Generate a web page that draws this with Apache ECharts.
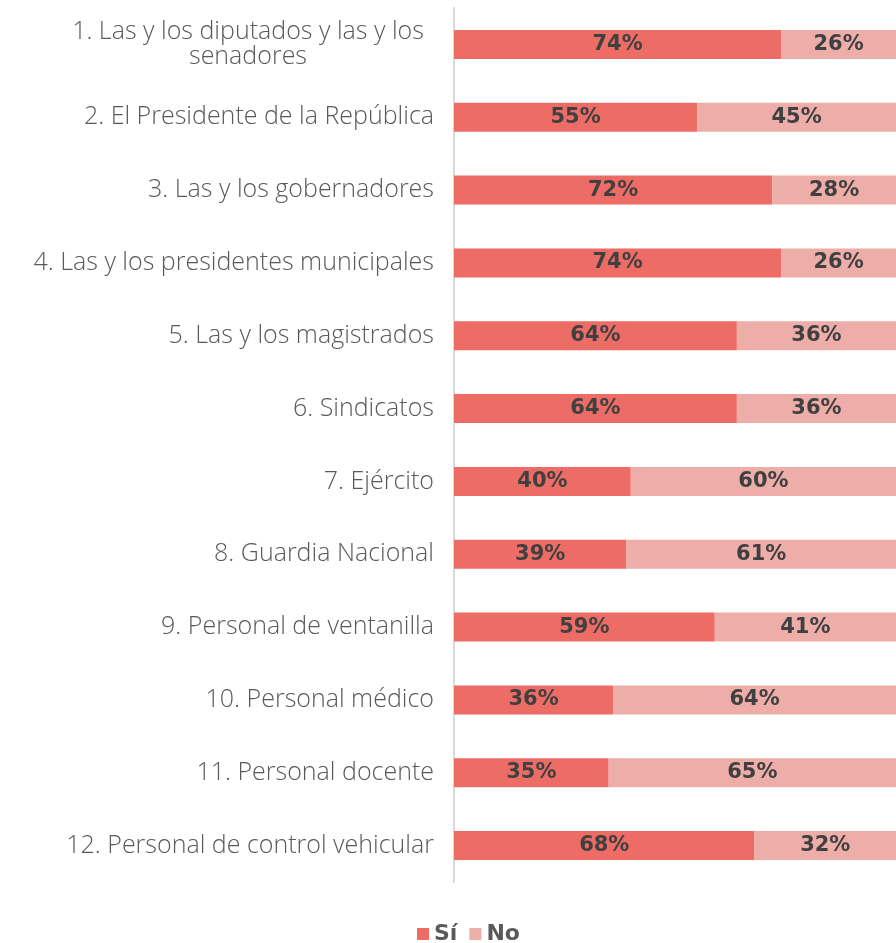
<!DOCTYPE html>
<html><head><meta charset="utf-8">
<script src="https://cdn.jsdelivr.net/npm/echarts@6/dist/echarts.min.js"></script>
<style>html,body{margin:0;padding:0;background:#fff}#c{width:896px;height:943px}</style>
</head><body><div id="c"></div>
<script>
const categories = [
  "1. Las y los diputados y las y los\nsenadores",
  "2. El Presidente de la República",
  "3. Las y los gobernadores",
  "4. Las y los presidentes municipales",
  "5. Las y los magistrados",
  "6. Sindicatos",
  "7. Ejército",
  "8. Guardia Nacional",
  "9. Personal de ventanilla",
  "10. Personal médico",
  "11. Personal docente",
  "12. Personal de control vehicular"
];
const si = [74, 55, 72, 74, 64, 64, 40, 39, 59, 36, 35, 68];
const no = [26, 45, 28, 26, 36, 36, 60, 61, 41, 64, 65, 32];

const chart = echarts.init(document.getElementById('c'), null, {renderer: 'canvas'});
const CAT_FONT = '"Open Sans"';
const VAL_FONT = '"DejaVu Sans"';
const labelCommon = {
  show: true, position: 'inside', color: '#404040',
  fontFamily: VAL_FONT, fontWeight: 'bold', fontSize: 21,
  formatter: p => p.value + '%'
};
chart.setOption({
  animation: false,
  grid: {left: 454, right: 0, top: 8, bottom: 61, containLabel: false},
  legend: {
    bottom: -7, left: 412, itemWidth: 12, itemHeight: 12, itemGap: 12,
    icon: 'rect',
    textStyle: {fontFamily: VAL_FONT, fontWeight: 'bold', fontSize: 22, color: '#595959'},
    data: ['Sí', 'No']
  },
  xAxis: {type: 'value', min: 0, max: 100, show: false},
  yAxis: {
    type: 'category', inverse: true, data: categories,
    axisLine: {show: true, lineStyle: {color: '#d9d9d9', width: 2}},
    axisTick: {show: false},
    axisLabel: {
      margin: 20, color: '#595959', fontFamily: CAT_FONT, fontWeight: 300, fontSize: 25,
      lineHeight: 25,
      formatter: v => v.indexOf('\n') >= 0 ? v.split('\n').map(s => '{c|' + s + '}').join('\n') : v,
      rich: {c: {width: 372, align: 'center', fontFamily: CAT_FONT, fontWeight: 300, fontSize: 25, color: '#595959', lineHeight: 25}}
    }
  },
  series: [
    {name: 'Sí', type: 'bar', stack: 't', data: si, barWidth: 29,
     itemStyle: {color: '#EE6C66'}, label: labelCommon},
    {name: 'No', type: 'bar', stack: 't', data: no, barWidth: 29,
     itemStyle: {color: '#EDADA8'}, label: labelCommon}
  ]
});
</script></body></html>
